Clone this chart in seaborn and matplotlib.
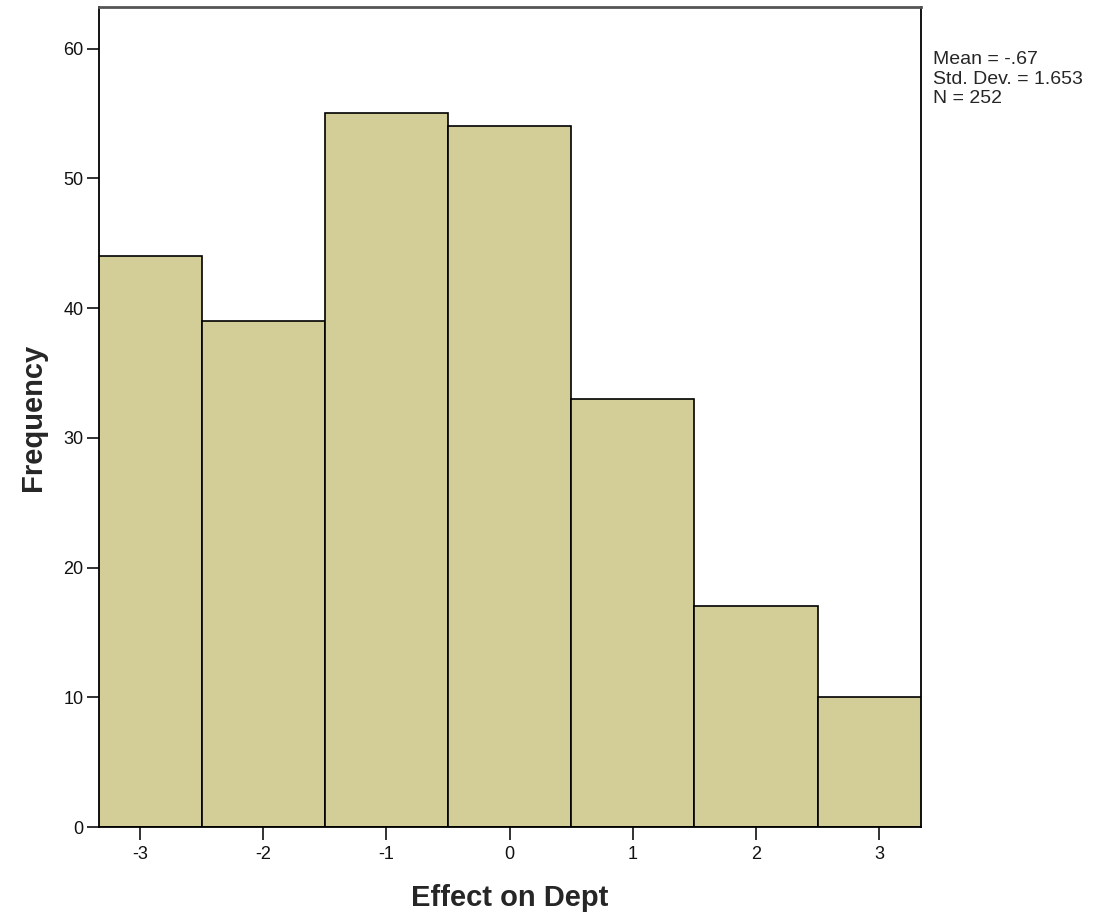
import numpy as np
import pandas as pd
import matplotlib
matplotlib.use("Agg")
import matplotlib.pyplot as plt
import seaborn as sns

# 응답 값과 빈도
scores = [-3, -2, -1, 0, 1, 2, 3]
counts = [44, 39, 55, 54, 33, 17, 10]
x_ticks = [-3, -2, -1, 0, 1, 2, 3]
y_ticks = [0, 10, 20, 30, 40, 50, 60]

df = pd.DataFrame({"Effect on Dept": np.repeat(scores, counts)})
mean = df["Effect on Dept"].mean()
sd = df["Effect on Dept"].std()
n = len(df)

sns.set_style("white")
plt.rcParams["font.family"] = ["Liberation Sans", "DejaVu Sans"]

fig = plt.figure(figsize=(11.07, 9.22), dpi=100)
ax = fig.add_axes([99 / 1107, 1 - 827 / 922, (921 - 99) / 1107, (827 - 7) / 922])

sns.histplot(data=df, x="Effect on Dept", discrete=True, ax=ax,
             color="#D3CE98", edgecolor="black", linewidth=1.2, alpha=1)

ax.set_xlim(-3.333, 3.34)
ax.set_ylim(0, 63.2)
ax.set_xticks(x_ticks)
ax.set_xticklabels([str(v) for v in x_ticks])
ax.set_yticks(y_ticks)

for s in ax.spines.values():
    s.set_color("black")
    s.set_linewidth(1.3)
ax.spines["top"].set_color("#555555")
ax.spines["top"].set_linewidth(2)

ax.tick_params(axis="both", which="both", direction="out", length=9, width=1.3,
               color="#222222", labelsize=13, labelcolor="#111111")
ax.tick_params(axis="x", bottom=True, pad=5)
ax.tick_params(axis="y", left=True, pad=2)

ax.set_xlabel("Effect on Dept", fontsize=21, fontweight="bold", labelpad=15)
ax.set_ylabel("Frequency", fontsize=21, fontweight="bold", labelpad=12)

fig.text(933 / 1107, 1 - 51 / 922,
         "Mean = -.67\nStd. Dev. = 1.653\nN = %d" % n,
         fontsize=14, va="top", ha="left", linespacing=1.2)

fig.savefig("out.png", dpi=100)
